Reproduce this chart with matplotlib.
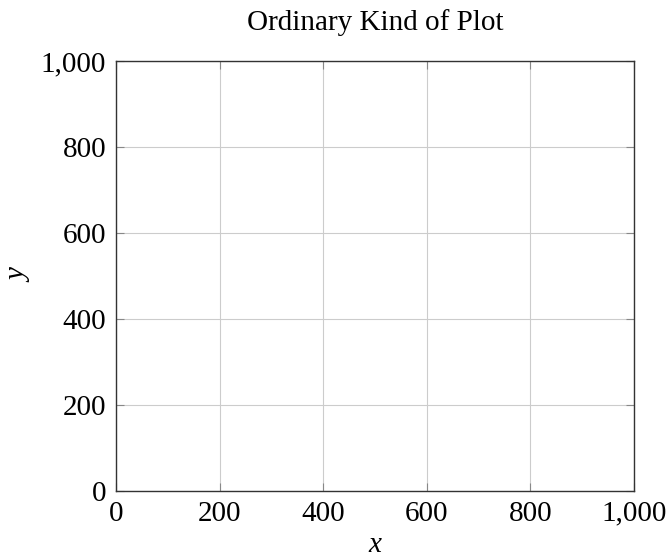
import matplotlib.pyplot as plt

x_ticks = [0, 200, 400, 600, 800, 1000]
y_ticks = [0, 200, 400, 600, 800, 1000]
tick_labels = ["0", "200", "400", "600", "800", "1,000"]

plt.rcParams['font.family'] = ['Liberation Serif', 'DejaVu Serif']

fig = plt.figure(figsize=(6.69, 5.57), dpi=100)
ax = fig.add_axes([116 / 669, 1 - 491 / 557, (634 - 116) / 669, (491 - 61) / 557])

ax.set_xlim(0, 1000)
ax.set_ylim(0, 1000)
ax.set_xticks(x_ticks)
ax.set_yticks(y_ticks)
ax.set_xticklabels(tick_labels)
ax.set_yticklabels(tick_labels)
ax.tick_params(direction='in', length=6, width=0.8, color='#888888',
               top=True, right=True, labelsize=21, pad=7)
ax.grid(True, color='#cccccc', linewidth=0.8)
ax.set_axisbelow(True)
for s in ax.spines.values():
    s.set_linewidth(1.0)
    s.set_color('#333333')

ax.set_title("Ordinary Kind of Plot", fontsize=21, pad=22)
ax.set_xlabel("x", fontsize=21, style='italic', labelpad=4)
ax.set_ylabel("y", fontsize=21, style='italic', labelpad=6)

fig.savefig("out.png", dpi=100)
